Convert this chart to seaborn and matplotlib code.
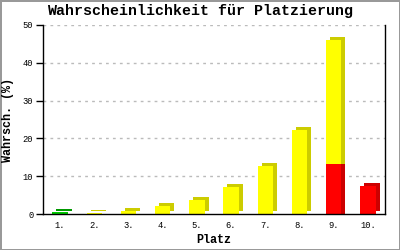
import matplotlib
matplotlib.use("Agg")
import matplotlib.pyplot as plt
import matplotlib.patheffects as pe
import seaborn as sns
import numpy as np

places = ["1.", "2.", "3.", "4.", "5.", "6.", "7.", "8.", "9.", "10."]
green = [0.5, 0, 0, 0, 0, 0, 0, 0, 0, 0]
yellow = [0, 0.3, 0.8, 2.0, 3.8, 7.1, 12.7, 22.2, 32.7, 0]
red = [0, 0, 0, 0, 0, 0, 0, 0, 13.3, 7.3]
yticks = [0, 10, 20, 30, 40, 50]

sns.set_theme(style="white")
mono = ["Liberation Mono", "DejaVu Sans Mono"]
plt.rcParams["font.family"] = mono
plt.rcParams["text.color"] = "black"
plt.rcParams["axes.labelcolor"] = "black"
plt.rcParams["xtick.color"] = "black"
plt.rcParams["ytick.color"] = "black"

fig = plt.figure(figsize=(4, 2.5), dpi=100)
fig.patch.set_facecolor("white")
fig.patch.set_edgecolor("#999999")
fig.patch.set_linewidth(2)
ax = fig.add_axes([0.1075, 0.144, 0.855, 0.756])

totals = [g + y + r for g, y, r in zip(green, yellow, red)]
top_cols = []
for g, y, r in zip(green, yellow, red):
    if y > 0:
        top_cols.append("#ffff00")
    elif r > 0:
        top_cols.append("#ff0000")
    else:
        top_cols.append("#00cc00")
side = {"#ffff00": "#cccc00", "#ff0000": "#cc0000", "#00cc00": "#009900"}

W = 0.45
sns.barplot(x=places, y=totals, hue=places, palette=top_cols, legend=False,
            width=W, linewidth=0, saturation=1, ax=ax)
n1 = len(ax.patches)
red_under = [r if (y > 0 and r > 0) else 0 for y, r in zip(yellow, red)]
sns.barplot(x=places, y=red_under, color="#ff0000", width=W, linewidth=0,
            saturation=1, ax=ax)
for i, p in enumerate(ax.patches):
    fc = matplotlib.colors.to_hex(p.get_facecolor())
    sc = side.get(fc, "#cccc00")
    off = (2.9, 2.2) if i < n1 else (2.9, 0)
    p.set_path_effects([pe.SimplePatchShadow(offset=off, shadow_rgbFace=sc, alpha=1),
                        pe.Normal()])

ax.set_xlim(-0.5, 9.5)
ax.set_ylim(0, 50)
ax.set_yticks(yticks)
ax.set_yticklabels([str(t) for t in yticks], fontsize=6.3)
ax.tick_params(axis="y", length=5, width=1, color="black", pad=2, left=True)
ax.tick_params(axis="x", length=0, pad=5, labelsize=6.3)
for t in yticks[1:]:
    ax.axhline(t, color="#bbbbbb", lw=1, ls=(0, (2, 3)), zorder=0)

for s in ["left", "bottom", "right"]:
    ax.spines[s].set_visible(True)
    ax.spines[s].set_color("black")
    ax.spines[s].set_linewidth(1)
ax.spines["top"].set_visible(False)

fig.suptitle("Wahrscheinlichkeit für Platzierung", fontsize=10.8, fontweight="bold",
             x=0.5, y=0.985, va="top", family=mono, color="black")
ax.set_xlabel("Platz", fontsize=8.5, fontweight="bold", labelpad=3, family=mono)
ax.set_ylabel("Wahrsch. (%)", fontsize=8.5, fontweight="bold", labelpad=6, family=mono)

fig.savefig("out.png", dpi=100)
